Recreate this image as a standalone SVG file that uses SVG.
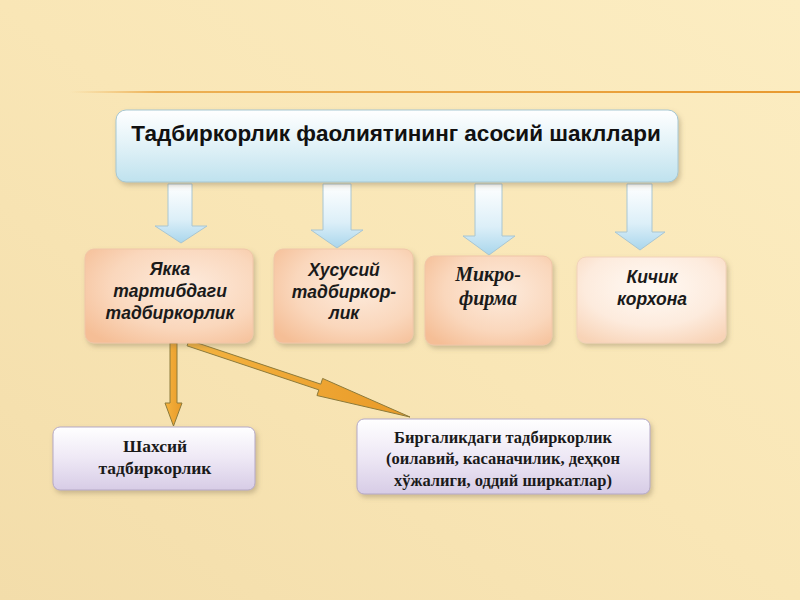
<svg xmlns="http://www.w3.org/2000/svg" width="800" height="600" viewBox="0 0 800 600">
  <defs>
    <linearGradient id="bg" x1="0" y1="1" x2="1" y2="0">
      <stop offset="0" stop-color="#F3DDAA"/>
      <stop offset="0.5" stop-color="#F9E6B6"/>
      <stop offset="1" stop-color="#FCEDC2"/>
    </linearGradient>
    <linearGradient id="hline" x1="0" y1="0" x2="1" y2="0">
      <stop offset="0" stop-color="#F0B860" stop-opacity="0"/>
      <stop offset="0.12" stop-color="#EBAA4A" stop-opacity="0.9"/>
      <stop offset="1" stop-color="#E89A30"/>
    </linearGradient>
    <linearGradient id="topFill" x1="0" y1="0" x2="0" y2="1">
      <stop offset="0" stop-color="#FFFFFF"/>
      <stop offset="0.45" stop-color="#E4F3F8"/>
      <stop offset="1" stop-color="#BFE2EE"/>
    </linearGradient>
    <linearGradient id="blueArrow" x1="0" y1="0" x2="0" y2="1">
      <stop offset="0" stop-color="#FFFFFF"/>
      <stop offset="0.6" stop-color="#DCEFF8"/>
      <stop offset="1" stop-color="#A9D6EC"/>
    </linearGradient>
    <radialGradient id="peach" cx="0.6" cy="0.4" r="0.75">
      <stop offset="0" stop-color="#FDEBDD"/>
      <stop offset="0.6" stop-color="#FAD7BC"/>
      <stop offset="1" stop-color="#F5BE96"/>
    </radialGradient>
    <radialGradient id="peachLight" cx="0.5" cy="0.35" r="0.75">
      <stop offset="0" stop-color="#FFFAF5"/>
      <stop offset="0.6" stop-color="#FDEBDD"/>
      <stop offset="1" stop-color="#F8D3B6"/>
    </radialGradient>
    <linearGradient id="lavender" x1="0" y1="0" x2="0" y2="1">
      <stop offset="0" stop-color="#FFFFFF"/>
      <stop offset="0.5" stop-color="#EEE8F5"/>
      <stop offset="1" stop-color="#D7CCE6"/>
    </linearGradient>
    <linearGradient id="orangeArrow" x1="0" y1="0" x2="1" y2="0">
      <stop offset="0" stop-color="#F4B340"/>
      <stop offset="1" stop-color="#E99A28"/>
    </linearGradient>
    <filter id="shadow" x="-10%" y="-10%" width="125%" height="130%">
      <feDropShadow dx="2" dy="3" stdDeviation="2.5" flood-color="#7A6A50" flood-opacity="0.35"/>
    </filter>
  </defs>
  <style>
    .sans { font-family: "Liberation Sans", Arial, sans-serif; font-weight: bold; fill: #111; }
    .sansI { font-family: "Liberation Sans", Arial, sans-serif; font-weight: bold; font-style: italic; font-size: 17.5px; fill: #1a1a1a; text-anchor: middle; }
    .serifI { font-family: "Liberation Serif", "Times New Roman", serif; font-weight: bold; font-style: italic; font-size: 20px; fill: #1a1a1a; text-anchor: middle; }
    .serif { font-family: "Liberation Serif", "Times New Roman", serif; font-weight: bold; font-size: 16.5px; fill: #1a1a1a; text-anchor: middle; }
    .serifL { font-family: "Liberation Serif", "Times New Roman", serif; font-weight: bold; font-size: 17.5px; fill: #1a1a1a; text-anchor: middle; }
    .blockArrow { fill: url(#blueArrow); stroke: #A9C6D2; stroke-width: 1; }
    .orange { fill: url(#orangeArrow); stroke: #8C7A3A; stroke-width: 1; }
    .peachBox { fill: url(#peach); stroke: #F0C6A8; stroke-width: 1; filter: url(#shadow); }
  </style>

  <rect x="0" y="0" width="800" height="600" fill="url(#bg)"/>
  <rect x="70" y="91" width="730" height="2" fill="url(#hline)"/>

  <g id="connectors">
    <polygon class="blockArrow" points="168,184 192,184 192,226 207,226 181,243 155,226 168,226"/>
    <polygon class="blockArrow" points="323,184 351,184 351,230 363,230 337,248 311,230 323,230"/>
    <polygon class="blockArrow" points="475,184 502,184 502,236 515,236 489,255 463,236 475,236"/>
    <polygon class="blockArrow" points="627,184 652,184 652,232 665,232 640,250 615,232 627,232"/>
    <polygon class="orange" points="170,343 177,343 177,403 182,403 173.5,426 165,403 170,403"/>
    <polygon class="orange" points="188.95,340.15 320.75,384.15 322.64,378.46 410,417 316.96,395.54 318.85,389.85 187.05,345.85"/>
  </g>

  <g id="node-main">
    <rect x="116" y="110" width="562" height="72" rx="10" fill="url(#topFill)" stroke="#A6C7D2" stroke-width="1" filter="url(#shadow)"/>
    <text class="sans" x="396" y="141" font-size="22.5" text-anchor="middle">Тадбиркорлик фаолиятининг асосий шакллари</text>
  </g>

  <g id="node-yakka">
    <rect class="peachBox" x="85" y="249" width="168" height="94" rx="9"/>
    <text class="sansI" x="170" y="275">Якка</text>
    <text class="sansI" x="170" y="297">тартибдаги</text>
    <text class="sansI" x="170" y="319">тадбиркорлик</text>
  </g>

  <g id="node-xususiy">
    <rect class="peachBox" x="274" y="249" width="139" height="94" rx="9"/>
    <text class="sansI" x="344" y="276">Хусусий</text>
    <text class="sansI" x="344" y="298">тадбиркор-</text>
    <text class="sansI" x="344" y="319">лик</text>
  </g>

  <g id="node-mikro">
    <rect class="peachBox" x="425" y="256" width="127" height="89" rx="9"/>
    <text class="serifI" x="488" y="281">Микро-</text>
    <text class="serifI" x="488" y="305">фирма</text>
  </g>

  <g id="node-kichik">
    <rect x="577" y="257" width="149" height="86" rx="9" fill="url(#peachLight)" stroke="#F2D2BA" stroke-width="1" filter="url(#shadow)"/>
    <text class="sansI" x="652" y="283">Кичик</text>
    <text class="sansI" x="652" y="305">корхона</text>
  </g>

  <g id="node-shaxsiy">
    <rect x="53" y="427" width="202" height="63" rx="7" fill="url(#lavender)" stroke="#B5A9C6" stroke-width="1" filter="url(#shadow)"/>
    <text class="serifL" x="155" y="452">Шахсий</text>
    <text class="serifL" x="155" y="474">тадбиркорлик</text>
  </g>

  <g id="node-birgalik">
    <rect x="357" y="419" width="293" height="75" rx="7" fill="url(#lavender)" stroke="#B5A9C6" stroke-width="1" filter="url(#shadow)"/>
    <text class="serif" x="503" y="443">Биргаликдаги тадбиркорлик</text>
    <text class="serif" x="503" y="464">(оилавий, касаначилик, деҳқон</text>
    <text class="serif" x="503" y="486">хўжалиги, оддий ширкатлар)</text>
  </g>
</svg>
